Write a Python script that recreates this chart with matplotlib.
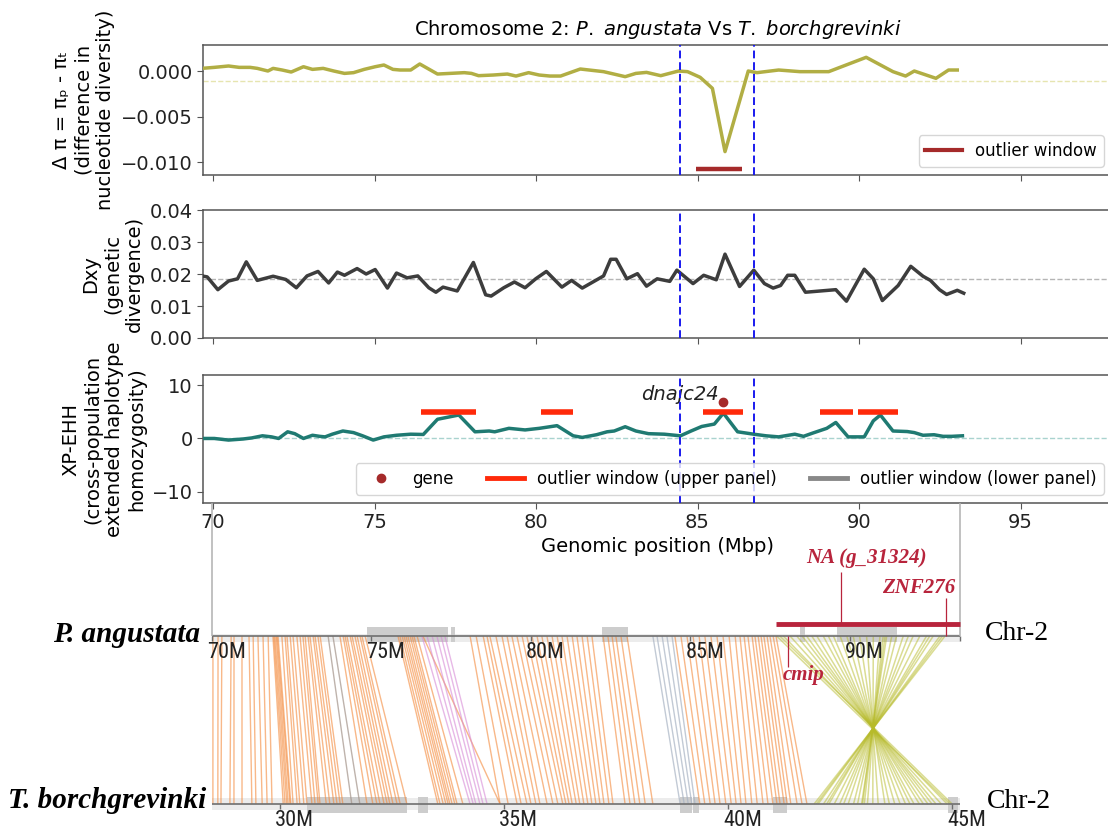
import matplotlib
matplotlib.use("Agg")
import matplotlib.pyplot as plt
from matplotlib.lines import Line2D
from matplotlib.collections import LineCollection
from matplotlib.patches import Rectangle
import matplotlib.transforms as mtransforms
from matplotlib import font_manager

# ---------------------------------------------------------------- data
# Panel 1: delta pi
dpi_pos = [69.65, 70.04, 70.48, 70.81, 71.15, 71.37, 71.70, 71.86, 72.14, 72.42, 72.80, 73.08,
           73.41, 73.74, 74.07, 74.35, 74.68, 75.02, 75.29, 75.57, 75.79, 76.12, 76.40, 76.95,
           77.34, 77.78, 78.00, 78.22, 78.67, 79.11, 79.38, 79.77, 80.10, 80.43, 80.76, 81.37,
           82.09, 82.76, 83.09, 83.42, 83.86, 84.41, 84.69, 85.08, 85.46, 85.85, 86.57, 86.84,
           87.51, 88.17, 89.06, 90.22, 91.05, 91.44, 91.71, 92.38, 92.77, 93.04]
dpi_val = [0.00029, 0.00040, 0.00055, 0.00040, 0.00040, 0.00029, 0.0, 0.00029, 0.00011, -0.00011,
           0.00047, 0.00018, 0.00029, 0.0, -0.00026, -0.00018, 0.00018, 0.00047, 0.00066, 0.00018,
           0.00011, 0.00011, 0.00077, -0.00033, -0.00026, -0.00018, -0.00026, -0.00051, -0.00044,
           -0.00033, -0.00055, -0.00018, -0.00044, -0.00055, -0.00055, 0.00022, -0.00007, -0.00062,
           -0.00026, -0.00015, -0.00051, 0.0, -0.00007, -0.00069, -0.0019, -0.00883, 0.0, -0.00018,
           0.00011, -0.00007, -0.00007, 0.0015, -0.00007, -0.00055, 0.0, -0.0008, 0.00011, 0.00011]
dpi_threshold = -0.0011
dpi_outlier_window = (84.96, 86.37)
dpi_outlier_level = -0.0107

# Panel 2: Dxy
dxy_pos = [69.65, 69.82, 70.15, 70.48, 70.76, 71.03, 71.37, 71.86, 72.25, 72.58, 72.91, 73.25,
           73.58, 73.85, 74.07, 74.46, 74.74, 75.02, 75.40, 75.68, 76.01, 76.34, 76.68, 76.90,
           77.12, 77.56, 78.06, 78.44, 78.61, 79.00, 79.33, 79.66, 79.99, 80.32, 80.80, 81.10,
           81.43, 82.09, 82.31, 82.48, 82.81, 83.14, 83.42, 83.75, 84.14, 84.36, 84.86, 85.19,
           85.58, 85.85, 86.30, 86.74, 87.07, 87.34, 87.57, 87.79, 88.01, 88.34, 89.28, 89.61,
           90.16, 90.44, 90.72, 91.21, 91.60, 91.98, 92.21, 92.49, 92.71, 93.04, 93.24]
dxy_val = [0.0194, 0.0191, 0.0151, 0.0178, 0.0185, 0.0238, 0.0180, 0.0193, 0.0183, 0.0157,
           0.0194, 0.0208, 0.0172, 0.0206, 0.0196, 0.0217, 0.0200, 0.0214, 0.0156, 0.0203,
           0.0188, 0.0194, 0.0157, 0.0143, 0.0159, 0.0147, 0.0236, 0.0135, 0.0131, 0.0157,
           0.0175, 0.0157, 0.0185, 0.0208, 0.0159, 0.0180, 0.0156, 0.0194, 0.0246, 0.0246,
           0.0185, 0.0201, 0.0162, 0.0185, 0.0177, 0.0212, 0.0170, 0.0196, 0.0182, 0.0262,
           0.0161, 0.0212, 0.0170, 0.0156, 0.0164, 0.0196, 0.0196, 0.0143, 0.0151, 0.0115,
           0.0215, 0.0185, 0.0117, 0.0164, 0.0224, 0.0193, 0.0180, 0.0151, 0.0136, 0.0149, 0.0140]
dxy_mean = 0.0183

# Panel 3: XP-EHH
xp_pos = [69.65, 70.04, 70.48, 70.93, 71.20, 71.53, 71.81, 72.03, 72.31, 72.53, 72.80, 73.08,
          73.30, 73.47, 73.69, 74.02, 74.35, 74.63, 74.96, 75.29, 75.68, 76.12, 76.51, 76.95,
          77.61, 78.11, 78.55, 78.72, 79.16, 79.66, 80.10, 80.65, 81.15, 81.43, 81.87, 82.20,
          82.42, 82.76, 83.09, 83.48, 83.97, 84.47, 84.80, 85.13, 85.52, 85.80, 86.24, 86.74,
          87.12, 87.51, 88.01, 88.28, 88.56, 89.00, 89.28, 89.66, 90.16, 90.44, 90.66, 91.05,
          91.49, 91.71, 91.98, 92.32, 92.60, 92.87, 93.20]
xp_val = [0.0, 0.0, -0.3, -0.1, 0.1, 0.5, 0.3, 0.0, 1.25, 0.9, 0.0, 0.6, 0.4, 0.3, 0.8, 1.4,
          1.1, 0.5, -0.3, 0.3, 0.6, 0.8, 0.75, 3.6, 4.4, 1.25, 1.4, 1.25, 1.9, 1.6, 1.9, 2.4,
          0.5, 0.2, 0.7, 1.25, 1.4, 2.2, 1.4, 0.9, 0.8, 0.5, 1.4, 2.25, 2.7, 4.75, 1.25, 0.8,
          0.5, 0.3, 0.8, 0.4, 1.0, 1.9, 3.0, 0.3, 0.3, 3.3, 4.4, 1.4, 1.3, 1.1, 0.6, 0.7, 0.4,
          0.4, 0.5]
xp_window_start = [76.45, 80.15, 85.17, 88.80, 89.97]
xp_window_end = [78.14, 81.15, 86.41, 89.81, 91.21]
xp_window_level = 5.0
gene_name = "dnajc24"
gene_pos = 85.80
gene_val = 6.9

boundaries = [84.46, 86.75]
x_ticks = [70, 75, 80, 85, 90, 95]

# Synteny (positions in Mbp on each chromosome)
top_track = (70.0, 93.45)     # P. angustata Chr-2
bot_track = (28.48, 45.18)    # T. borchgrevinki Chr-2
top_ticks = [70, 75, 80, 85, 90]
bot_ticks = [30, 35, 40, 45]
top_blocks = [(74.86, 77.40), (77.49, 77.62), (82.23, 83.04), (88.43, 88.59), (89.59, 91.47)]
bot_blocks = [(30.60, 32.83), (33.08, 33.30), (38.93, 39.19), (39.22, 39.35), (41.00, 41.31),
              (44.91, 45.13)]

orange_top = [70.03, 70.19, 70.31, 70.60, 70.69, 70.94, 71.16, 71.29, 71.44, 71.60, 71.76,
              71.91, 71.94, 71.97, 72.01, 72.04, 72.07,
              72.19, 72.29, 72.35, 72.45, 72.54, 72.66, 72.76, 72.85, 72.92, 73.01, 73.07, 73.17,
              73.23, 73.32, 73.39,
              74.01, 74.11, 74.17, 74.23, 74.33, 74.39, 74.48, 74.55, 74.64, 74.70, 74.80,
              75.83, 75.89, 75.96, 76.02, 76.08, 76.14, 76.21, 76.27, 76.33, 76.43, 76.61,
              78.09, 78.28, 78.50, 78.62, 78.71, 78.90, 79.09, 79.25, 79.40, 79.56, 79.72, 79.87,
              80.03, 80.19, 80.34, 80.50, 80.66, 80.82, 80.97, 81.13, 81.29, 81.44, 81.60, 81.76,
              81.91, 82.26, 82.41, 82.54, 82.66, 82.82, 83.01,
              84.51, 84.70, 84.89, 85.08, 85.27, 85.45, 85.64, 85.83, 86.02, 86.21, 86.40, 86.55,
              86.68, 86.80, 86.93, 87.02, 87.12, 87.21, 87.30, 87.40, 87.49, 87.59, 87.68]
orange_bot = [28.50, 28.61, 28.68, 28.88, 28.97, 29.15, 29.37, 29.46, 29.60, 29.71, 29.82,
              30.07, 30.11, 30.15, 30.18, 30.22, 30.24,
              30.29, 30.38, 30.44, 30.53, 30.60, 30.71, 30.78, 30.85, 30.89, 31.03, 31.11, 31.20,
              31.27, 31.34, 31.40,
              31.94, 32.07, 32.16, 32.23, 32.32, 32.39, 32.45, 32.52, 32.61, 32.68, 32.83,
              33.52, 33.57, 33.64, 33.70, 33.75, 33.79, 33.84, 33.90, 33.95, 34.08, 34.91,
              34.91, 35.09, 35.29, 35.38, 35.51, 35.60, 35.71, 35.80, 35.96, 36.09, 36.20, 36.31,
              36.38, 36.45, 36.52, 36.61, 36.69, 36.78, 36.87, 36.96, 37.05, 37.14, 37.23, 37.34,
              37.43, 37.70, 37.81, 37.92, 38.03, 38.15, 38.32,
              39.37, 39.48, 39.60, 39.71, 39.82, 39.95, 40.07, 40.18, 40.29, 40.40, 40.53, 40.65,
              40.78, 40.89, 41.00, 41.09, 41.16, 41.25, 41.32, 41.40, 41.54, 41.65, 41.76]
pink_top = [76.58, 76.74, 76.90, 77.05, 77.18, 77.30]
pink_bot = [34.24, 34.31, 34.37, 34.46, 34.53, 34.62]
brown_top = [73.64, 73.79]
brown_bot = [31.60, 31.78]
grey_top = [83.82, 83.95, 84.11, 84.26, 84.42]
grey_bot = [38.93, 39.02, 39.11, 39.19, 39.26]
olive_top = [87.70, 87.80, 87.91, 88.12, 88.33, 88.50, 88.64, 88.80, 88.96, 89.16, 89.32, 89.48,
             89.69, 89.90, 90.10, 90.30, 90.52, 90.73, 90.94, 91.04, 91.10, 91.15, 91.31, 91.46,
             91.67, 91.83, 91.98, 92.19, 92.40, 92.50, 92.61, 92.82, 92.90, 92.98]
olive_bot = [44.95, 45.00, 44.89, 44.76, 44.64, 44.55, 44.46, 44.36, 44.27, 44.15, 44.06, 43.96,
             43.84, 43.72, 43.60, 43.50, 43.35, 43.23, 43.11, 43.04, 43.00, 42.98, 42.89, 42.80,
             42.68, 42.58, 42.49, 42.37, 42.25, 42.20, 42.13, 42.01, 41.97, 41.92]

region_window = (87.68, 93.45)
syn_gene_names = ["cmip", "NA (g_31324)", "ZNF276"]
syn_gene_pos = [88.06, 89.72, 93.01]

# ---------------------------------------------------------------- style
installed = {f.name for f in font_manager.fontManager.ttflist}
narrow = None
for cand in ["Liberation Sans Narrow", "Roboto Condensed", "DejaVu Sans Condensed",
             "Open Sans Condensed"]:
    if cand in installed:
        narrow = cand
        break
serif = "Liberation Serif" if "Liberation Serif" in installed else "DejaVu Serif"

plt.rcParams["font.family"] = ["DejaVu Sans"]
plt.rcParams["mathtext.fontset"] = "dejavusans"

W, H = 1108, 834
fig = plt.figure(figsize=(W / 100, H / 100), dpi=100)


def px_axes(left, top, right, bottom):
    return [left / W, 1 - bottom / H, (right - left) / W, (bottom - top) / H]


ax1 = fig.add_axes(px_axes(203, 45, 1112, 175))
ax2 = fig.add_axes(px_axes(203, 210, 1112, 338))
ax3 = fig.add_axes(px_axes(203, 375, 1112, 503))

XLIM = (69.69, 97.83)
spine_c = "#555555"
for ax in (ax1, ax2, ax3):
    ax.set_xlim(XLIM)
    ax.set_xticks(x_ticks)
    for sp in ax.spines.values():
        sp.set_color(spine_c)
        sp.set_linewidth(1.1)
    ax.spines["right"].set_visible(False)
    ax.tick_params(colors=spine_c, labelcolor="#222222", labelsize=14, length=4)
    for xb in boundaries:
        ax.axvline(xb, color="#1a1aee", lw=1.4, ls=(0, (4, 2)), zorder=5)
ax1.tick_params(labelbottom=False)
ax2.tick_params(labelbottom=False)

# panel 1
ax1.axhline(dpi_threshold, color="#e6e5b0", lw=1.0, ls="--", zorder=1)
ax1.plot(dpi_pos, dpi_val, color="#b1ae44", lw=2.5, zorder=3)
ax1.hlines(dpi_outlier_level, dpi_outlier_window[0], dpi_outlier_window[1],
           color="#a52a2a", lw=3.2, zorder=4)
ax1.set_ylim(-0.01139, 0.00285)
ax1.set_yticks([0.0, -0.005, -0.010])
ax1.set_yticklabels(["0.000", "\u22120.005", "\u22120.010"])
ax1.set_ylabel("\u0394 \u03c0 = \u03c0\u209a - \u03c0\u209c\n(difference in\nnucleotide diversity)",
               fontsize=14)
ax1.set_title(r"Chromosome 2: $\mathit{P.}$ $\mathit{angustata}$ Vs "
              r"$\mathit{T.}$ $\mathit{borchgrevinki}$", fontsize=14, pad=7)
ax1.legend(handles=[Line2D([], [], color="#a52a2a", lw=3)], labels=["outlier window"],
           loc="lower right", fontsize=12, handlelength=2.2)

# panel 2
ax2.axhline(dxy_mean, color="#b5b5b5", lw=1.0, ls="--", zorder=1)
ax2.plot(dxy_pos, dxy_val, color="#3d3d3d", lw=2.5, zorder=3)
ax2.set_ylim(0, 0.04)
ax2.set_yticks([0.0, 0.01, 0.02, 0.03, 0.04])
ax2.set_yticklabels(["0.00", "0.01", "0.02", "0.03", "0.04"])
ax2.set_ylabel("Dxy\n(genetic\ndivergence)", fontsize=14)

# panel 3
ax3.axhline(0, color="#a9d3cf", lw=1.0, ls="--", zorder=1)
ax3.plot(xp_pos, xp_val, color="#1f7a72", lw=2.5, zorder=3)
ax3.hlines([xp_window_level] * len(xp_window_start), xp_window_start, xp_window_end,
           color="#ff2a0a", lw=4, zorder=4)
ax3.plot([gene_pos], [gene_val], "o", color="#a52a2a", ms=6, zorder=6)
ax3.annotate(gene_name, (gene_pos, gene_val), xytext=(-3, 5), textcoords="offset points",
             ha="right", va="center", fontsize=14, style="italic", color="#222222")
ax3.set_ylim(-12.1, 11.9)
ax3.set_yticks([-10, 0, 10])
ax3.set_ylabel("XP-EHH\n(cross-population\nextended haplotype\nhomozygosity)", fontsize=14)
ax3.set_xlabel("Genomic position (Mbp)", fontsize=14, labelpad=3)
handles3 = [Line2D([], [], marker="o", color="#a52a2a", ls="None", ms=6),
            Line2D([], [], color="#ff2a0a", lw=3.5),
            Line2D([], [], color="#888888", lw=3.5)]
ax3.legend(handles=handles3,
           labels=["gene", "outlier window (upper panel)", "outlier window (lower panel)"],
           loc="lower right", ncol=3, fontsize=12, handlelength=2.2, columnspacing=2.0)

# ---------------------------------------------------------------- synteny panel
TOP_PX_PER_MB = 31.9
BOT_PX_PER_MB = 44.8
TRACK_LEFT_PX = 212
ax_s = fig.add_axes([0, 0, 1, 331 / H])
ax_s.set_xlim(top_track[0] - TRACK_LEFT_PX / TOP_PX_PER_MB,
              top_track[0] + (W - TRACK_LEFT_PX) / TOP_PX_PER_MB)
ax_s.set_ylim(-0.1786, 1.7917)
ax_s.axis("off")


def bot_x(b):
    """bottom-chromosome Mbp -> shared horizontal axis of the synteny panel"""
    return top_track[0] + (b - bot_track[0]) * BOT_PX_PER_MB / TOP_PX_PER_MB


Y_TOP, Y_BOT = 1.0, 0.0

# track bands
ax_s.add_patch(Rectangle((top_track[0], Y_TOP - 0.036), top_track[1] - top_track[0], 0.048,
                         color="#ececec", lw=0, zorder=1))
for s, e in top_blocks:
    ax_s.add_patch(Rectangle((s, Y_TOP - 0.036), e - s, 0.09, color="#cdcdcd", lw=0, zorder=1))
ax_s.add_patch(Rectangle((bot_x(bot_track[0]), Y_BOT - 0.036),
                         bot_x(bot_track[1]) - bot_x(bot_track[0]), 0.072,
                         color="#ececec", lw=0, zorder=1))
for s, e in bot_blocks:
    ax_s.add_patch(Rectangle((bot_x(s), Y_BOT - 0.054), bot_x(e) - bot_x(s), 0.094,
                             color="#cdcdcd", lw=0, zorder=1))


def links(tops, bots):
    return [[(t, Y_TOP), (bot_x(b), Y_BOT)] for t, b in zip(tops, bots)]


ax_s.add_collection(LineCollection(links(orange_top, orange_bot), colors="#f4893a",
                                   linewidths=1.0, alpha=0.6, zorder=2))
ax_s.add_collection(LineCollection(links(pink_top, pink_bot), colors="#d78ad6",
                                   linewidths=1.0, alpha=0.6, zorder=2))
ax_s.add_collection(LineCollection(links(brown_top, brown_bot), colors="#a39389",
                                   linewidths=1.0, alpha=0.7, zorder=2))
ax_s.add_collection(LineCollection(links(grey_top, grey_bot), colors="#a9b4c4",
                                   linewidths=1.0, alpha=0.7, zorder=2))
ax_s.add_collection(LineCollection(links(olive_top, olive_bot), colors="#b7bb2a",
                                   linewidths=1.1, alpha=0.5, zorder=2))

# track axis lines and ticks
ax_s.hlines(Y_TOP, top_track[0], top_track[1], color="#6f6f6f", lw=1.2, zorder=3)
ax_s.hlines(Y_BOT, bot_x(bot_track[0]), bot_x(bot_track[1]), color="#6f6f6f", lw=1.2, zorder=3)
ax_s.vlines(top_ticks + [top_track[1]], Y_TOP - 0.03, Y_TOP, color="#6f6f6f", lw=1, zorder=3)
ax_s.vlines([bot_x(b) for b in bot_ticks], Y_BOT - 0.03, Y_BOT, color="#6f6f6f", lw=1, zorder=3)

if narrow:
    tick_font = dict(family=narrow, fontsize=16)
else:
    tick_font = dict(family="DejaVu Sans", fontsize=13)
off = mtransforms.offset_copy(ax_s.transData, fig=fig, x=-5, y=0, units="dots")
for t in top_ticks:
    ax_s.text(t, 0.899, f"{t}M", transform=off, ha="left", va="center", color="#222222",
              **tick_font)
for b in bot_ticks:
    ax_s.text(bot_x(b), -0.101, f"{b}M", transform=off, ha="left", va="center",
              color="#222222", **tick_font)

# connector lines from the scan panels
ax_s.vlines([top_track[0], top_track[1]], Y_TOP, 1.7917, color="#b0b0b0", lw=1.1, zorder=3)

# gene annotations
crimson = "#b8243c"
ax_s.hlines(1.071, region_window[0], region_window[1], color=crimson, lw=3.5, zorder=4)
gfont = dict(family=serif, weight="bold", style="italic", color=crimson, fontsize=15)
# cmip (below track)
ax_s.vlines(syn_gene_pos[0], 0.815, Y_TOP, color=crimson, lw=0.9, zorder=4)
ax_s.text(syn_gene_pos[0] + 0.47, 0.768, syn_gene_names[0], ha="center", va="center", **gfont)
# NA (g_31324)
ax_s.vlines(syn_gene_pos[1], 1.071, 1.381, color=crimson, lw=0.9, zorder=4)
ax_s.text(syn_gene_pos[1] + 0.81, 1.464, syn_gene_names[1], ha="center", va="center", **gfont)
# ZNF276
ax_s.vlines(syn_gene_pos[2], 1.0, 1.226, color=crimson, lw=0.9, zorder=4)
ax_s.text(syn_gene_pos[2] - 0.85, 1.286, syn_gene_names[2], ha="center", va="center", **gfont)

# species / chromosome labels
sp_font = dict(family=serif, weight="bold", style="italic", fontsize=21, color="black")
fig.text(200 / W, 1 - 634 / H, "P. angustata", ha="right", va="center", **sp_font)
fig.text(206 / W, 1 - 801 / H, "T. borchgrevinki", ha="right", va="center", **sp_font)
fig.text(985 / W, 1 - 633 / H, "Chr-2", ha="left", va="center", family=serif, fontsize=20)
fig.text(987 / W, 1 - 801 / H, "Chr-2", ha="left", va="center", family=serif, fontsize=20)

fig.savefig("out.png", dpi=100)
